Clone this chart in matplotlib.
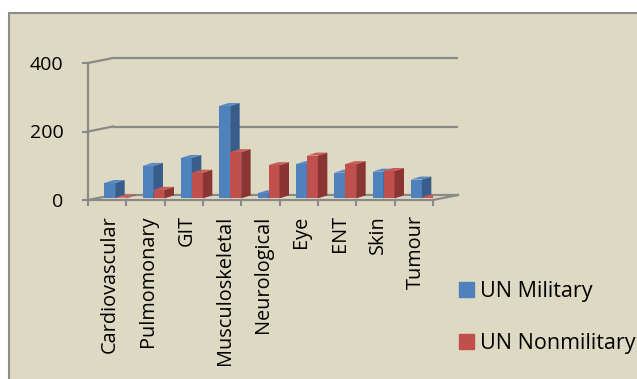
import numpy as np
import matplotlib.pyplot as plt
from matplotlib.patches import Polygon, Rectangle, Patch
from matplotlib.transforms import ScaledTranslation

plt.rcParams['font.family'] = ['Open Sans', 'DejaVu Sans']

categories = ['Cardiovascular', 'Pulmomonary', 'GIT', 'Musculoskeletal',
              'Neurological', 'Eye', 'ENT', 'Skin', 'Tumour']
military = [45, 95, 118, 270, 15, 100, 75, 78, 55]
nonmilitary = [2, 25, 75, 135, 97, 125, 100, 80, 3]
series_names = ['UN Military', 'UN Nonmilitary']
yticks = [0, 200, 400]

front_cols = ['#4F81BD', '#C0504D']
side_cols = ['#385D8A', '#8A3533']
top_cols = ['#5A8AC4', '#C85C59']
grid_col = '#898989'

W, H = 637, 379
fig = plt.figure(figsize=(W / 100, H / 100), dpi=100)
fig.patch.set_facecolor('white')

# chart area background
fig.patches.append(Rectangle((9 / W, -0.02), 1.0, (H - 13) / H + 0.02,
                             transform=fig.transFigure, facecolor='#DDD9C3',
                             edgecolor='#8C8C8C', lw=1.5, zorder=-1))


def px(x, y, w, h):
    return [x / W, 1 - (y + h) / H, w / W, h / H]


ax = fig.add_axes(px(88, 63, 345, 137))
ax.set_xlim(-0.5, len(categories) - 0.5)
ax.set_ylim(0, 400)
ax.patch.set_visible(False)

# pixel -> data units for the fake depth
cx = ax.bbox.width / len(categories)
cy = ax.bbox.height / 400


def off(dx, dy):
    return dx / cx, dy / cy


# back wall gridlines + connectors to the front axis
bx, by = off(25, 5)
x0, x1 = -0.5, len(categories) - 0.5
for v in yticks:
    ax.plot([x0 + bx, x1 + bx], [v + by, v + by], color=grid_col, lw=1.6,
            clip_on=False, zorder=1, solid_capstyle='butt')
    ax.plot([x0, x0 + bx], [v, v + by], color=grid_col, lw=1.6,
            clip_on=False, zorder=1)
ax.plot([x1, x1 + bx], [0, by], color=grid_col, lw=1.6, clip_on=False, zorder=1)

# bars: front face via ax.bar, side and top as polygons
dx, dy = off(8, 1.6)
sx, sy = off(9.5, 3)
w = 11 / cx
xs = np.arange(len(categories))
for s, vals in enumerate([military, nonmilitary]):
    lefts = xs - w + dx + s * w
    bars = ax.bar(lefts, vals, width=w, bottom=dy, align='edge',
                  color=front_cols[s], lw=0, label=series_names[s])
    for i, (b, v) in enumerate(zip(bars, vals)):
        z = 3 + 2 * i + s
        b.set_zorder(z)
        l, r = lefts[i], lefts[i] + w
        t = dy + v
        side = Polygon([(r, dy), (r, t), (r + sx, t + sy), (r + sx, dy + sy)],
                       closed=True, facecolor=side_cols[s], lw=0, zorder=z)
        top = Polygon([(l, t), (r, t), (r + sx, t + sy), (l + sx, t + sy)],
                      closed=True, facecolor=top_cols[s], lw=0, zorder=z)
        ax.add_patch(side)
        ax.add_patch(top)

# axes styling
for sp in ['top', 'right']:
    ax.spines[sp].set_visible(False)
for sp in ['left', 'bottom']:
    ax.spines[sp].set_color(grid_col)
    ax.spines[sp].set_linewidth(1.6)
    ax.spines[sp].set_zorder(2)

ax.set_yticks(yticks)
ax.set_yticklabels([str(v) for v in yticks])
ax.tick_params(axis='y', direction='out', length=4.5, width=1.5,
               color=grid_col, labelsize=14, pad=13)
ax.set_xticks(np.arange(-0.5, len(categories)), labels=[''] * (len(categories) + 1))
ax.set_xticks(xs, labels=categories, minor=True)
ax.tick_params(axis='x', which='major', direction='out', length=4.5,
               width=1.5, color=grid_col)
ax.tick_params(axis='x', which='minor', length=0, labelsize=14.3,
               labelrotation=90, pad=11)
shift = ScaledTranslation(2.5 / 100, 0, fig.dpi_scale_trans)
for lab in ax.get_xticklabels(minor=True):
    lab.set_transform(lab.get_transform() + shift)

handles = [Patch(color=c) for c in front_cols]
fig.legend(handles, series_names, loc='upper left',
           bbox_to_anchor=(459 / W, 1 - 281 / H), frameon=False, fontsize=15.5,
           handlelength=0.68, handleheight=0.68, handletextpad=0.3,
           labelspacing=1.45, borderpad=0, borderaxespad=0)

fig.savefig('out.png', dpi=100)
